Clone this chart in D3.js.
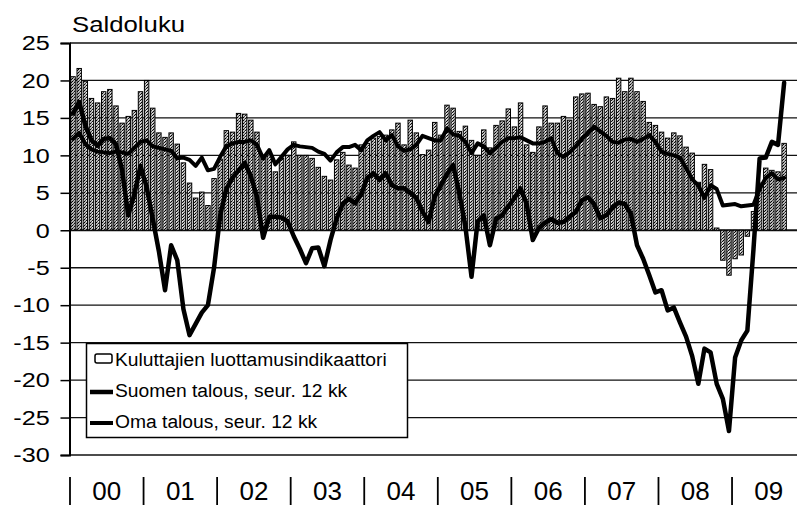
<!DOCTYPE html>
<html><head><meta charset="utf-8">
<script src="https://cdn.jsdelivr.net/npm/d3@7"></script>
<style>body{margin:0;background:#fff}svg{display:block}</style>
</head><body>
<svg id="c" width="797" height="506"></svg>
<script>
// ---- data ----
const yearLabels = ["00","01","02","03","04","05","06","07","08","09"];
const yTicks = [25,20,15,10,5,0,-5,-10,-15,-20,-25,-30];
const titleText = "Saldoluku";
const legendLabels = ["Kuluttajien luottamusindikaattori","Suomen talous, seur. 12 kk","Oma talous, seur. 12 kk"];

// Kuluttajien luottamusindikaattori (monthly, Jan 2000 - Sep 2009)
const bars = [
 20.5,21.6,19.9,17.6,17.0,18.5,18.8,16.6,14.3,15.2,16.0,18.5,
 20.0,16.3,13.0,12.4,13.0,11.5, 9.0, 6.3, 4.3, 5.1, 3.3, 6.9,
  9.5,13.3,13.1,15.6,15.5,14.7,13.1,10.0,10.2, 7.8, 9.6,10.0,
 11.8,10.0,10.0, 9.6, 8.4, 7.2, 6.7, 9.4,10.4, 8.7, 8.3,11.4,
 11.6,12.3,12.5,12.7,13.4,14.3,11.4,14.7,13.0,10.1,10.7,14.4,
 12.7,16.7,16.3,13.2,13.9,12.0,10.0,13.4,11.0,14.0,14.6,16.2,
 13.8,17.0,11.4,10.4,13.8,16.6,14.3,14.3,15.2,14.7,17.8,18.2,
 18.3,16.8,16.5,17.8,17.6,20.3,18.5,20.3,18.5,17.2,14.4,14.0,
 13.1,12.3,13.0,12.6,11.1,10.3, 6.4, 8.8, 8.1, 0.3,-4.0,-6.0,
 -3.8,-3.3,-0.8, 2.5, 6.3, 8.3, 8.0, 7.8,11.6
];
// Suomen talous, seur. 12 kk
const suomen = [
 15.6,17.1,14.0,12.0,11.3,12.2,12.3,11.5, 8.0, 2.0, 4.8, 8.6,
  5.8, 1.5,-2.8,-8.0,-2.0,-4.0,-10.5,-14.0,-12.5,-11.0,-10.0,-5.0,
  2.0, 5.5, 7.0, 8.0, 9.0, 7.2, 4.5,-1.0, 1.8, 1.8, 1.7, 1.2,
 -0.8,-2.5,-4.4,-2.4,-2.3,-4.8,-1.3, 1.6, 3.5, 4.2, 3.6, 4.8,
  7.0, 7.6, 6.7, 7.6, 6.0, 5.6, 5.6, 5.0, 4.3, 2.5, 1.1, 4.5,
  6.0, 7.5, 8.7, 5.0, 0.5,-6.2, 1.2, 2.0,-2.0, 1.5, 2.0, 3.2,
  4.3, 5.6, 3.5,-1.3, 0.3, 1.0, 1.5, 1.0, 1.1, 1.8, 2.4, 4.0,
  4.4, 3.5, 1.6, 2.0, 3.0, 3.7, 3.5, 2.2,-2.0,-3.8,-6.0,-8.3,
 -8.0,-10.7,-10.3,-12.3,-14.2,-16.8,-20.5,-15.8,-16.3,-20.5,-22.5,-26.8,
 -17.0,-14.7,-13.4,-2.5, 9.6, 9.7,11.8,11.4,19.7
];
// Oma talous, seur. 12 kk
const oma = [
 12.2,13.0,11.5,10.8,10.5,10.4,10.3,10.5,10.4,10.2,11.0,11.8,
 12.0,11.2,11.0,10.8,10.6, 9.6, 9.7, 9.4, 8.6, 9.7, 8.0, 8.2,
  9.8,11.2,11.6,11.8,11.8,12.0,11.4, 9.6,10.7, 8.8, 9.8,10.8,
 11.4,11.2,11.1,11.0,10.5,10.2, 9.3,10.4,11.1,11.1,11.4,10.7,
 12.0,12.6,13.1,12.0,12.7,11.2,10.6,10.8,11.4,12.6,12.3,12.0,
 12.0,13.6,12.8,12.6,11.8,10.3,11.6,11.2,10.3,11.0,11.8,12.3,
 12.3,12.4,12.0,11.6,11.6,11.8,12.3,10.3, 9.8,10.4,11.2,12.2,
 13.0,13.8,13.2,12.6,11.8,11.7,12.1,12.2,11.8,12.2,12.7,11.8,
 10.5,10.2,10.0, 9.7, 8.3, 6.8, 6.0, 4.3, 6.0, 5.5, 3.3, 3.4,
  3.5, 3.2, 3.3, 3.4, 5.5, 7.0, 7.6, 6.8, 7.0
];

// ---- layout ----
const W = 797, H = 506;
const FONT = "'Liberation Sans', Arial, Helvetica, sans-serif";
const svg = d3.select("#c");
const monthCount = yearLabels.length * 12;
const left = 70, right = 70 + 6.13 * monthCount;

const x = d3.scaleBand().domain(d3.range(monthCount)).range([left, right])
  .paddingInner(0.28).paddingOuter(0.14);
const xm = d3.scaleLinear().domain([0, monthCount]).range([left, right]);
const y = d3.scaleLinear().domain([-30, 25]).range([455, 43]);
const bw = x.bandwidth();

// pattern for bars
const defs = svg.append("defs");
const pat = defs.append("pattern").attr("id","stip").attr("width",3).attr("height",3)
  .attr("patternUnits","userSpaceOnUse");
pat.append("rect").attr("width",3).attr("height",3).attr("fill","#b8b8b8");
pat.append("rect").attr("x",0).attr("y",0).attr("width",1).attr("height",1).attr("fill","#000");
pat.append("rect").attr("x",2).attr("y",1).attr("width",1).attr("height",1).attr("fill","#111");
pat.append("rect").attr("x",1).attr("y",2).attr("width",1).attr("height",1).attr("fill","#444");
pat.append("rect").attr("x",2).attr("y",2).attr("width",1).attr("height",1).attr("fill","#eee");

// gridlines
svg.append("g").selectAll("line").data(yTicks).join("line")
  .attr("x1", left).attr("x2", W)
  .attr("y1", d => y(d)).attr("y2", d => y(d))
  .attr("stroke", "#111").attr("stroke-width", d => d === 0 ? 1.8 : 1.3);

// bars
svg.append("g").selectAll("rect").data(bars).join("rect")
  .attr("x", (d,i) => x(i))
  .attr("width", bw)
  .attr("y", d => Math.min(y(d), y(0)))
  .attr("height", d => Math.abs(y(d) - y(0)))
  .attr("fill", "url(#stip)")
  .attr("stroke", "#000").attr("stroke-width", 1);

// lines
const line = d3.line().x((d,i) => x(i) + bw/2).y(d => y(d));
svg.append("path").datum(oma).attr("d", line)
  .attr("fill","none").attr("stroke","#000").attr("stroke-width",4)
  .attr("stroke-linejoin","round").attr("stroke-linecap","round");
svg.append("path").datum(suomen).attr("d", line)
  .attr("fill","none").attr("stroke","#000").attr("stroke-width",4.5)
  .attr("stroke-linejoin","round").attr("stroke-linecap","round");

// y axis
const ya = svg.append("g").attr("transform", `translate(${left - 0.5},0)`)
  .call(d3.axisLeft(y).tickValues(yTicks).tickSize(9).tickPadding(7.5).tickFormat(d => String(d)));
ya.select(".domain").attr("stroke","#000").attr("stroke-width",2);
ya.selectAll(".tick line").attr("stroke","#000").attr("stroke-width",1.5);
ya.selectAll(".tick text")
  .attr("font-family", FONT).attr("font-size", 21).attr("fill","#000")
  .attr("transform","scale(1.2,1)");

// x year separators and labels
const years = d3.range(yearLabels.length);
svg.append("g").selectAll("line").data(years).join("line")
  .attr("x1", k => xm(k*12)).attr("x2", k => xm(k*12))
  .attr("y1", 477).attr("y2", 505)
  .attr("stroke","#000").attr("stroke-width",1.8);
svg.append("g").selectAll("text").data(yearLabels).join("text")
  .attr("transform", (d,k) => `translate(${xm(k*12+6)},500) scale(1.04,1)`)
  .attr("text-anchor","middle")
  .attr("font-family", FONT).attr("font-size", 25).attr("fill","#000")
  .text(d => d);

// title
svg.append("text").attr("transform","translate(72,32) scale(1.12,1)")
  .attr("font-family", FONT).attr("font-size", 23).attr("fill","#000")
  .text(titleText);

// legend
const lg = svg.append("g");
lg.append("rect").attr("x",86.5).attr("y",343.5).attr("width",321).attr("height",94)
  .attr("fill","#fff").attr("stroke","#000").attr("stroke-width",1.5);
lg.append("rect").attr("x",95).attr("y",354).attr("width",17).attr("height",9).attr("rx",2)
  .attr("fill","#fff").attr("stroke","#000").attr("stroke-width",1.5);
lg.append("line").attr("x1",90).attr("x2",113).attr("y1",392).attr("y2",392)
  .attr("stroke","#000").attr("stroke-width",4.5);
lg.append("line").attr("x1",90).attr("x2",113).attr("y1",423).attr("y2",423)
  .attr("stroke","#000").attr("stroke-width",4);
const rowsY = [366, 397, 428];
lg.selectAll("text").data(legendLabels).join("text")
  .attr("transform", (d,i) => `translate(115,${rowsY[i]}) scale(1.07,1)`)
  .attr("font-family", FONT).attr("font-size", 18).attr("fill","#000")
  .text(d => d);
</script>
</body></html>
